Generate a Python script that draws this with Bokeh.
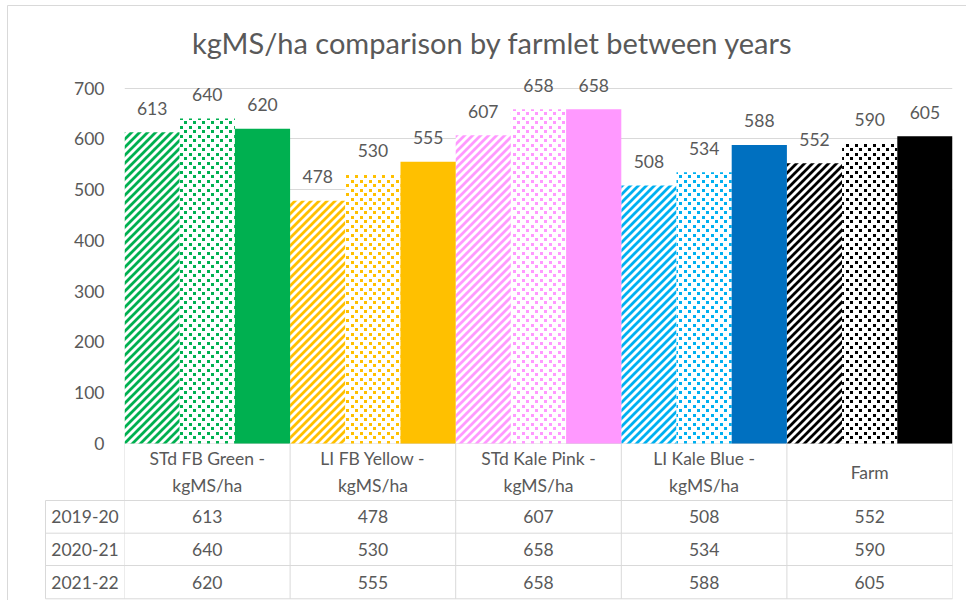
from bokeh.plotting import figure
from bokeh.models import Range1d, FixedTicker, CanvasTexture
from bokeh.core.properties import value
from bokeh.embed import file_html
from bokeh.resources import INLINE

# ---- data -------------------------------------------------------------
farmlets = [
    "STd FB Green -\nkgMS/ha",
    "LI FB Yellow -\nkgMS/ha",
    "STd Kale Pink -\nkgMS/ha",
    "LI Kale Blue -\nkgMS/ha",
    "Farm",
]
years = ["2019-20", "2020-21", "2021-22"]
ms_2019_20 = [613, 478, 607, 508, 552]
ms_2020_21 = [640, 530, 658, 534, 590]
ms_2021_22 = [620, 555, 658, 588, 605]
y_ticks = [0, 100, 200, 300, 400, 500, 600, 700]

pattern_colors = ["#00B050", "#FFC000", "#FF99FF", "#00B0F0", "#000000"]
solid_colors = ["#00B050", "#FFC000", "#FF99FF", "#0070C0", "#000000"]

# ---- layout (pixels) --------------------------------------------------
W, H = 966, 600
PLOT_L, PLOT_R = 124, 952
ZERO_PX, TOP_PX = 443.0, 87.5          # pixel rows of 0 and 700
PX_PER_UNIT = (ZERO_PX - TOP_PX) / 700.0
CAT_PX = (PLOT_R - PLOT_L) / len(farmlets)

TEXT = "#595959"
LINE = "#D9D9D9"
FONT = value("Lato")
FS = value("17.5px")


def xd(px):
    return (px - PLOT_L) / CAT_PX


def yd(py):
    return (ZERO_PX - py) / PX_PER_UNIT


# fill textures: wide upward diagonal stripes and staggered dots.
# The tile canvas is sized here so the pattern does not depend on how
# scale/weight get forwarded.
CSS_COLOR = """
const c = (typeof color === "number")
  ? "#" + (color >>> 8).toString(16).padStart(6, "0")
  : color;
"""
STRIPE_TILE, STRIPE_W = 8, 2.8
DOT_TILE, DOT_W = 9, 3
stripes = CanvasTexture(code=CSS_COLOR + f"""
const s = {STRIPE_TILE};
ctx.canvas.width = s;
ctx.canvas.height = s;
ctx.clearRect(0, 0, s, s);
ctx.strokeStyle = c;
ctx.lineWidth = {STRIPE_W};
ctx.beginPath();
for (let k = -1; k <= 1; k++) {{
  ctx.moveTo(-1 + k * s, s + 1);
  ctx.lineTo(s + 1 + k * s, -1);
}}
ctx.stroke();
""")
dots = CanvasTexture(code=CSS_COLOR + f"""
const s = {DOT_TILE};
const d = {DOT_W};
ctx.canvas.width = s;
ctx.canvas.height = s;
ctx.clearRect(0, 0, s, s);
ctx.fillStyle = c;
const h = Math.floor(s / 2);
ctx.fillRect(0, 0, d, d);
ctx.fillRect(h, h, d, d);
""")

p = figure(
    width=W, height=H,
    x_range=Range1d(0, len(farmlets)),
    y_range=Range1d(yd(H), yd(0)),
    x_axis_location=None,
    toolbar_location=None,
    output_backend="svg",
    min_border_left=PLOT_L, min_border_right=W - PLOT_R,
    min_border_top=0, min_border_bottom=0,
)
p.outline_line_color = None
p.background_fill_color = "white"
p.border_fill_color = "white"

# y axis and grid
yax = p.yaxis[0]
yax.ticker = FixedTicker(ticks=y_ticks)
yax.axis_line_color = None
yax.major_tick_line_color = None
yax.minor_tick_line_color = None
yax.major_tick_in = 0
yax.major_tick_out = 0
yax.major_label_standoff = 20
yax.major_label_text_font = "Lato"
yax.major_label_text_font_size = "17.5px"
yax.major_label_text_color = TEXT
p.ygrid.ticker = FixedTicker(ticks=y_ticks)
p.ygrid.grid_line_color = LINE
p.xgrid.grid_line_color = None

# ---- bars ---------------------------------------------------------------
n = len(farmlets)
series = [ms_2019_20, ms_2020_21, ms_2021_22]
for j, vals in enumerate(series):
    xs = [i + (j + 0.5) / 3 for i in range(n)]
    if j == 0:
        p.vbar(x=xs, top=vals, bottom=0, width=1 / 3, fill_color="white",
               line_color=None, hatch_pattern=value("stripes"),
               hatch_extra={"stripes": stripes}, hatch_color=pattern_colors,
               hatch_scale=STRIPE_TILE, hatch_weight=STRIPE_W)
    elif j == 1:
        p.vbar(x=xs, top=vals, bottom=0, width=1 / 3, fill_color="white",
               line_color=None, hatch_pattern=value("dots"),
               hatch_extra={"dots": dots}, hatch_color=pattern_colors,
               hatch_scale=DOT_TILE, hatch_weight=DOT_W)
    else:
        p.vbar(x=xs, top=vals, bottom=0, width=1 / 3, fill_color=solid_colors,
               line_color=None)
    p.text(x=xs, y=vals, text=[str(v) for v in vals], y_offset=-24,
           text_align="center", text_baseline="middle",
           text_font=FONT, text_font_size=FS, text_color=TEXT)

# ---- title -------------------------------------------------------------
p.text(x=[xd(492)], y=[yd(42)], text=["kgMS/ha comparison by farmlet between years"],
       text_align="center", text_baseline="middle",
       text_font=FONT, text_font_size=value("29px"), text_color=TEXT)

# ---- data table --------------------------------------------------------
row_edges = [500.0, 532.7, 565.0, 598.3]
tab_left = 45

# horizontal rules
p.segment(x0=[xd(tab_left)] * len(row_edges), x1=[n] * len(row_edges),
          y0=[yd(r) for r in row_edges], y1=[yd(r) for r in row_edges],
          line_color=LINE, line_width=1, level="overlay")
# vertical rules between categories
p.segment(x0=list(range(n + 1)), x1=list(range(n + 1)),
          y0=[0] * (n + 1), y1=[yd(row_edges[-1])] * (n + 1),
          line_color=LINE, line_width=1)
# left edge of the year column
p.segment(x0=[xd(tab_left)], x1=[xd(tab_left)],
          y0=[yd(row_edges[0])], y1=[yd(row_edges[-1])],
          line_color=LINE, line_width=1, level="overlay")

# chart border (top and left edges)
p.segment(x0=[xd(7), xd(7)], x1=[xd(7), xd(W)],
          y0=[yd(5), yd(5)], y1=[yd(H), yd(5)],
          line_color=LINE, line_width=1, level="overlay")

# header cells
p.text(x=[i + 0.5 for i in range(n)], y=[yd((ZERO_PX + row_edges[0]) / 2)] * n,
       text=farmlets, text_align="center", text_baseline="middle",
       text_line_height=1.25, text_font=FONT, text_font_size=FS, text_color=TEXT)

# year rows
for r, (yr, vals) in enumerate(zip(years, series)):
    cy = yd((row_edges[r] + row_edges[r + 1]) / 2)
    p.text(x=[xd((tab_left + PLOT_L) / 2)], y=[cy], text=[yr],
           text_align="center", text_baseline="middle",
           text_font=FONT, text_font_size=FS, text_color=TEXT, level="overlay")
    p.text(x=[i + 0.5 for i in range(n)], y=[cy] * n, text=[str(v) for v in vals],
           text_align="center", text_baseline="middle",
           text_font=FONT, text_font_size=FS, text_color=TEXT)

open("out.html", "w").write(file_html(p, INLINE))
